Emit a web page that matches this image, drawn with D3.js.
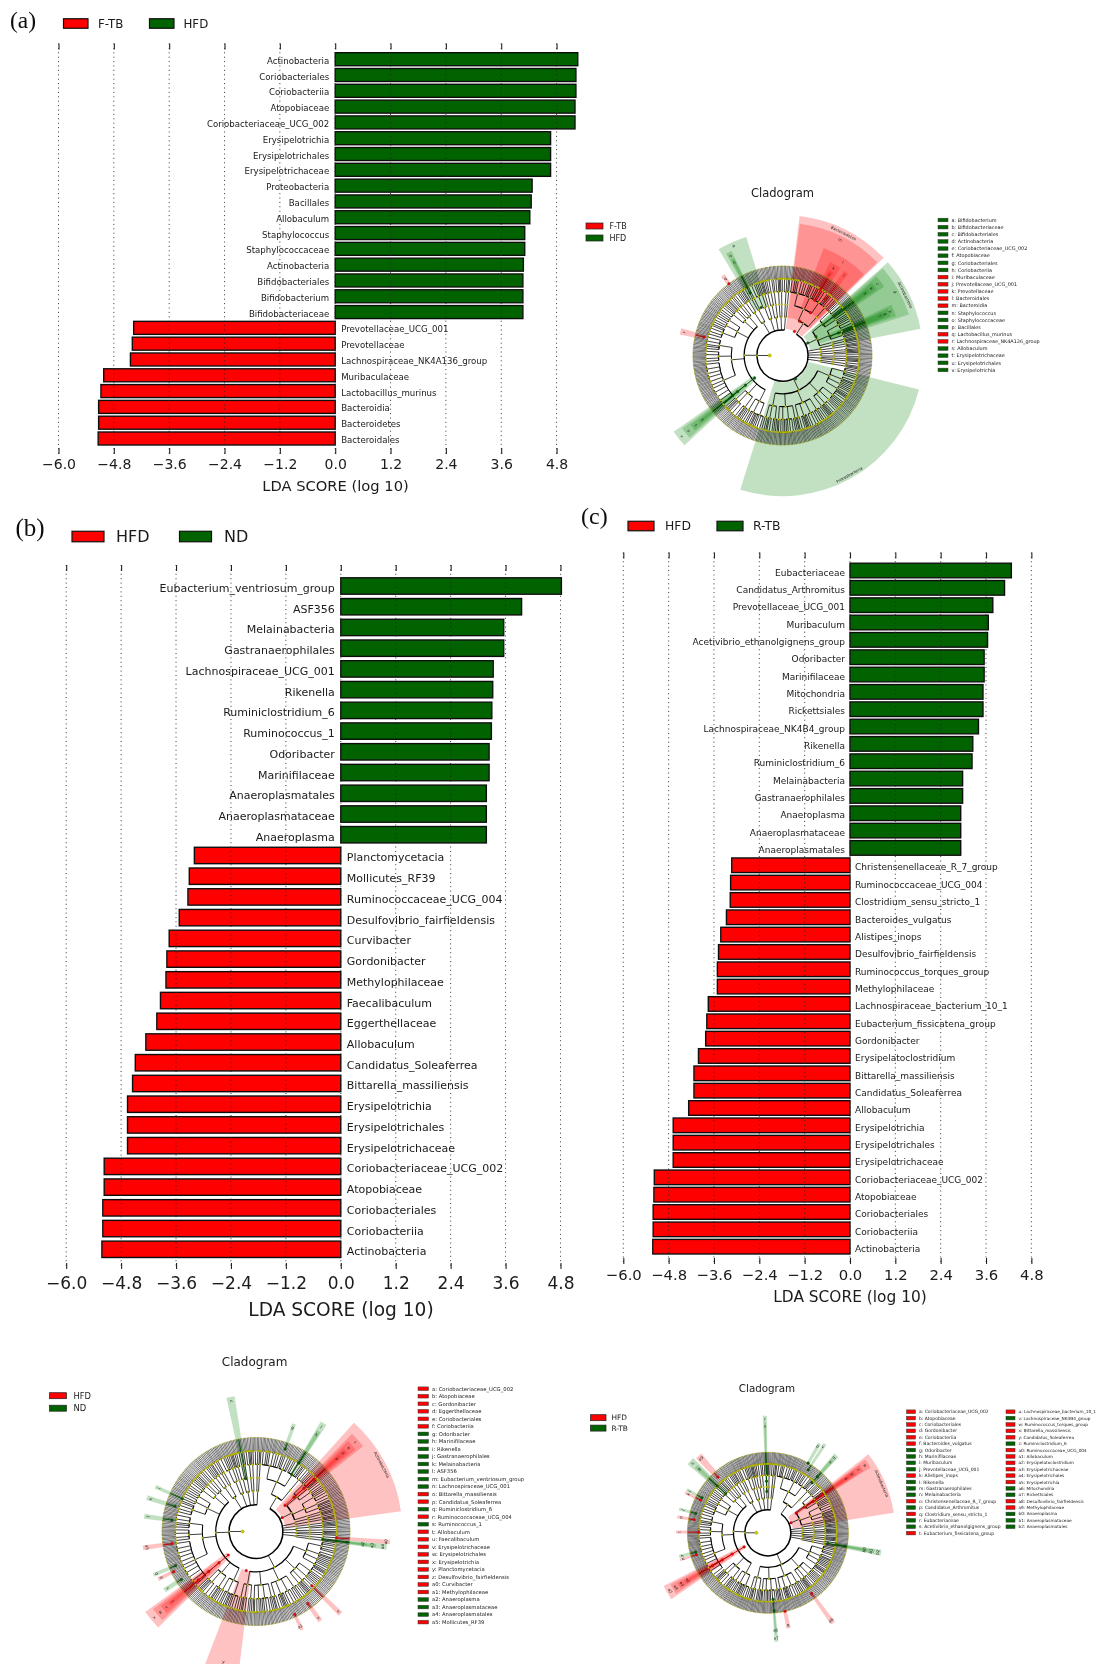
<!DOCTYPE html>
<html>
<head>
<meta charset="utf-8">
<script src="https://cdn.jsdelivr.net/npm/d3@7/dist/d3.min.js"></script>
<style>
  html, body { margin: 0; padding: 0; background: #fff; }
  svg { display: block; }
  text { font-family: "DejaVu Sans", sans-serif; fill: #1a1a1a; }
  .letter { font-family: "Liberation Serif", serif; fill: #111; }
</style>
</head>
<body>
<svg id="fig" width="1099" height="1664"></svg>
<script>
/* LDA bar values, top to bottom */
const aNames = ["Actinobacteria","Coriobacteriales","Coriobacteriia","Atopobiaceae","Coriobacteriaceae_UCG_002","Erysipelotrichia","Erysipelotrichales","Erysipelotrichaceae","Proteobacteria","Bacillales","Allobaculum","Staphylococcus","Staphylococcaceae","Actinobacteria","Bifidobacteriales","Bifidobacterium","Bifidobacteriaceae","Prevotellaceae_UCG_001","Prevotellaceae","Lachnospiraceae_NK4A136_group","Muribaculaceae","Lactobacillus_murinus","Bacteroidia","Bacteroidetes","Bacteroidales"];
const aScores = [5.26,5.22,5.22,5.20,5.20,4.67,4.67,4.67,4.27,4.25,4.22,4.11,4.11,4.08,4.07,4.07,4.07,-4.37,-4.40,-4.44,-5.02,-5.08,-5.13,-5.13,-5.14];

const bNames = ["Eubacterium_ventriosum_group","ASF356","Melainabacteria","Gastranaerophilales","Lachnospiraceae_UCG_001","Rikenella","Ruminiclostridium_6","Ruminococcus_1","Odoribacter","Marinifilaceae","Anaeroplasmatales","Anaeroplasmataceae","Anaeroplasma","Planctomycetacia","Mollicutes_RF39","Ruminococcaceae_UCG_004","Desulfovibrio_fairfieldensis","Curvibacter","Gordonibacter","Methylophilaceae","Faecalibaculum","Eggerthellaceae","Allobaculum","Candidatus_Soleaferrea","Bittarella_massiliensis","Erysipelotrichia","Erysipelotrichales","Erysipelotrichaceae","Coriobacteriaceae_UCG_002","Atopobiaceae","Coriobacteriales","Coriobacteriia","Actinobacteria"];
const bScores = [4.82,3.95,3.56,3.56,3.33,3.32,3.30,3.29,3.24,3.24,3.18,3.18,3.18,-3.20,-3.31,-3.34,-3.53,-3.75,-3.80,-3.82,-3.94,-4.02,-4.26,-4.49,-4.55,-4.66,-4.66,-4.66,-5.17,-5.17,-5.20,-5.20,-5.22];

const cNames = ["Eubacteriaceae","Candidatus_Arthromitus","Prevotellaceae_UCG_001","Muribaculum","Acetivibrio_ethanolgignens_group","Odoribacter","Marinifilaceae","Mitochondria","Rickettsiales","Lachnospiraceae_NK4B4_group","Rikenella","Ruminiclostridium_6","Melainabacteria","Gastranaerophilales","Anaeroplasma","Anaeroplasmataceae","Anaeroplasmatales","Christensenellaceae_R_7_group","Ruminococcaceae_UCG_004","Clostridium_sensu_stricto_1","Bacteroides_vulgatus","Alistipes_inops","Desulfovibrio_fairfieldensis","Ruminococcus_torques_group","Methylophilaceae","Lachnospiraceae_bacterium_10_1","Eubacterium_fissicatena_group","Gordonibacter","Erysipelatoclostridium","Bittarella_massiliensis","Candidatus_Soleaferrea","Allobaculum","Erysipelotrichia","Erysipelotrichales","Erysipelotrichaceae","Coriobacteriaceae_UCG_002","Atopobiaceae","Coriobacteriales","Coriobacteriia","Actinobacteria"];
const cScores = [4.27,4.09,3.78,3.66,3.64,3.55,3.55,3.52,3.52,3.40,3.25,3.23,2.98,2.98,2.93,2.93,2.93,-3.13,-3.16,-3.17,-3.27,-3.42,-3.48,-3.51,-3.51,-3.75,-3.79,-3.82,-4.01,-4.13,-4.13,-4.27,-4.68,-4.68,-4.68,-5.18,-5.19,-5.21,-5.21,-5.22];

const scoreTicks = [-6.0,-4.8,-3.6,-2.4,-1.2,0,1.2,2.4,3.6,4.8];

/* Cladogram taxonomy: phylum > class > order > family (number = genera in it) */
const taxonTree = [
  [[[3,2,1,2,4,1,3,2],[1,2,3,1,2],[2,1,4,2,1,1]],[[2,3,1]]],
  [[[2,1,2,3],[1,1,2],[2,2]],[[1,2,1,3,2],[3,1],[1,2,1,1]],[[2,1]]],
  [[[1,1],[2,1]],[[1,1]]],
  [[[2,1,1]]],
  [[[1],[1,2]],[[2]]],
  [[[1,1,1]],[[1]]],
  [[[3,1]],[[1,1]]],
  [[[2,1,3,1,2],[3,1,1,2],[1,2,1],[2,2,1,1]],
   [[1,3,2,1,2,1],[2,1],[3,2,1,1],[1,1,2]],
   [[2,2,1,3],[1,4,2],[2,1,1,1,2],[3,1]],
   [[1,2,1],[3,2,2,1],[2,1,3],[1,1]],
   [[2,1,2],[3,1,1],[2,2]]],
  [[[2,3,1,2,1],[1,2,2,1],[3,1]],
   [[2,1,1,3],[4,2,1],[1,1,2]],
   [[4,5,3,6,2,4,3,5,2,6,3],[2,3,4,2],[3,1,2,4,3]],
   [[3,2,4,1,2],[2,2,3],[1,3,1]],
   [[3,2,2,1],[2,1]],
   [[1,2],[2,1],[3]]],
  [[[2,1,2],[1,1]],[[3,1],[2]]],
  [[[4,1,2],[1,2]],[[1,1]]],
  [[[1,2,1],[3]],[[2,1]]],
  [[[3,1,1]],[[1,2]]],
  [[[2,2,1]],[[1]]]
];

/* Highlighted clades: start deg, end deg, inner level, outer level, group, label, tag level if not at the edge */
const aClades = [
  [7,46,2.1,11,"r","Bacteroidetes"],[7.5,45.5,3,10.4,"r","m"],[21,45,4,9,"r","l"],[27,33.5,5,8.2,"r","k"],[28.5,31.5,6,7.6,"r","j"],[36,39,5.5,8.2,"r","i"],
  [48.5,79,2.2,11,"g","Actinobacteria"],[49,72,3,10.4,"g","d"],[50,56,4,9.6,"g","c"],[51,55,5,9,"g","b"],[52,54,6,8.4,"g","a"],[65,71,4,9.4,"g","h"],[66,70,4.7,9,"g","g"],[66.5,69.5,5.5,8.5,"g","f"],
  [104,197.5,2.1,11,"g","Proteobacteria"],
  [227.5,235,2.8,10.4,"g","v"],[228.5,234,3.7,9.7,"g","u"],[229.5,233,4.5,9,"g","t"],[230.5,232,5,8.3,"g","s"],
  [329,343,4.1,9.7,"g","p"],[331,334,5.5,9.1,"g","o"],[331.8,333.5,6,8.5,"g","n"],
  [281.5,285,6.3,8.2,"r","r"],[322,324.5,7,7.8,"r","q"]
];
const bClades = [
  [42,82,2.2,10.9,"r","Actinobacteria"],[44.5,51.5,2.9,10.2,"r","f"],[45.5,50.5,3.8,9.6,"r","e"],[46.5,49.5,4.8,9,"r","d"],[47.3,48.7,5.8,8.4,"r","a"],
  [225.5,234,2.7,10.2,"r","x"],[226.5,233,3.6,9.6,"r","w"],[227.5,232,4.6,9,"r","v"],[229,231,5.6,8.4,"r","t"],
  [187,201,3,10.9,"r","y",10],
  [347.5,351,4,10.2,"g","n"],[18.5,20.5,6.5,8.5,"g","g"],[30.5,33.5,5,9.5,"g","j"],[31,33,6,8.8,"g","k"],
  [95.5,98,5,9.8,"g","a4"],[96,97.6,6,9,"g","a3"],[96.3,97.3,6.8,8.3,"g","a2"],[93.5,95.5,6,10,"r","a0"],
  [293,295,6,8.2,"g","i"],[286,288.5,6.3,8.5,"g","h"],[276.5,279,6.3,8.4,"g","l"],[260.5,263,6.3,8.5,"r","a5"],[246,248,6.5,8.3,"g","q"],[243,245,6.8,8.1,"r","p"],[236,238.5,6.6,8.1,"g","s"],
  [154,156,6.8,8.1,"r","a1"],[143,145.5,6.6,8.2,"r","u"],[133,135.5,5.8,8.8,"r","o"]
];
const cClades = [
  [52,81,2.2,11.1,"r","Actinobacteria"],[53,57.5,3,10.6,"r","e"],[53.5,57,3.9,9.9,"r","c"],[54,56.5,4.8,9.2,"r","b"],[54.5,56,5.8,8.6,"r","a"],
  [235.5,243,2.4,10.2,"r","a5"],[236.5,242,3.6,9.6,"r","a4"],[237.5,241,4.6,9,"r","a3"],[238.5,240,5.6,8.4,"r","a1"],
  [98.5,101.5,5.3,10,"g","b2"],[99,101,6,9.4,"g","b1"],[99.5,100.5,6.8,8.8,"g","b0"],
  [357.5,359.5,3.6,10.2,"g","r"],[358,359,4.5,9.6,"g","s"],[174.5,176.5,5.8,9.5,"g","a7"],[175,176,6.8,8.8,"g","a6"],
  [143,145.5,6.5,9.7,"r","a8"],[166.5,169,7,8.5,"r","q"],[310.5,315,5,9.2,"g","h"],[311.5,314,6,8.5,"g","g"],[316,320,6.5,9,"r","a9"],
  [297,299,6.5,8,"g","l"],[295,296.8,6.5,8,"r","k"],[284,286,6.5,8,"g","j"],[279,281,6.5,8,"r","o"],[269.5,271.5,6,8,"r","t"],[254,256,6.5,8,"g","z"],[252,253.8,6.5,8,"r","u"],
  [29,31,7,9,"g","p"],[31.8,33.6,6.5,9.2,"g","v"],[40,43,5.8,9,"g","m"],[40.5,42.5,6.5,8.5,"g","n"]
];

/* Cladogram side keys; group letters line up with the names */
const aKeyNames = ["a: Bifidobacterium","b: Bifidobacteriaceae","c: Bifidobacteriales","d: Actinobacteria","e: Coriobacteriaceae_UCG_002","f: Atopobiaceae","g: Coriobacteriales","h: Coriobacteriia","i: Muribaculaceae","j: Prevotellaceae_UCG_001","k: Prevotellaceae","l: Bacteroidales","m: Bacteroidia","n: Staphylococcus","o: Staphylococcaceae","p: Bacillales","q: Lactobacillus_murinus","r: Lachnospiraceae_NK4A136_group","s: Allobaculum","t: Erysipelotrichaceae","u: Erysipelotrichales","v: Erysipelotrichia"];
const aKeyGroups = "ggggggggrrrrrgggrrgggg";
const bKeyNames = ["a: Coriobacteriaceae_UCG_002","b: Atopobiaceae","c: Gordonibacter","d: Eggerthellaceae","e: Coriobacteriales","f: Coriobacteriia","g: Odoribacter","h: Marinifilaceae","i: Rikenella","j: Gastranaerophilales","k: Melainabacteria","l: ASF356","m: Eubacterium_ventriosum_group","n: Lachnospiraceae_UCG_001","o: Bittarella_massiliensis","p: Candidatus_Soleaferrea","q: Ruminiclostridium_6","r: Ruminococcaceae_UCG_004","s: Ruminococcus_1","t: Allobaculum","u: Faecalibaculum","v: Erysipelotrichaceae","w: Erysipelotrichales","x: Erysipelotrichia","y: Planctomycetacia","z: Desulfovibrio_fairfieldensis","a0: Curvibacter","a1: Methylophilaceae","a2: Anaeroplasma","a3: Anaeroplasmataceae","a4: Anaeroplasmatales","a5: Mollicutes_RF39"];
const bKeyGroups = "rrrrrrggggggggrrgrgrrrrrrrrrgggr";
const cKeyNames1 = ["a: Coriobacteriaceae_UCG_002","b: Atopobiaceae","c: Coriobacteriales","d: Gordonibacter","e: Coriobacteriia","f: Bacteroides_vulgatus","g: Odoribacter","h: Marinifilaceae","i: Muribaculum","j: Prevotellaceae_UCG_001","k: Alistipes_inops","l: Rikenella","m: Gastranaerophilales","n: Melainabacteria","o: Christensenellaceae_R_7_group","p: Candidatus_Arthromitus","q: Clostridium_sensu_stricto_1","r: Eubacteriaceae","s: Acetivibrio_ethanolgignens_group","t: Eubacterium_fissicatena_group"];
const cKeyGroups1 = "rrrrrrggggrgggrgrggr";
const cKeyNames2 = ["u: Lachnospiraceae_bacterium_10_1","v: Lachnospiraceae_NK4B4_group","w: Ruminococcus_torques_group","x: Bittarella_massiliensis","y: Candidatus_Soleaferrea","z: Ruminiclostridium_6","a0: Ruminococcaceae_UCG_004","a1: Allobaculum","a2: Erysipelatoclostridium","a3: Erysipelotrichaceae","a4: Erysipelotrichales","a5: Erysipelotrichia","a6: Mitochondria","a7: Rickettsiales","a8: Desulfovibrio_fairfieldensis","a9: Methylophilaceae","b0: Anaeroplasma","b1: Anaeroplasmataceae","b2: Anaeroplasmatales"];
const cKeyGroups2 = "rgrrrgrrrrrrggrrggg";

const RED = "#ff0000", GREEN = "#006400";
const HILITE = { r: "#ff0000", g: "#008000" };

const svg = d3.select("#fig");
const defs = svg.append("defs");
defs.append("filter").attr("id", "soft").attr("x", "-2%").attr("y", "-2%").attr("width", "104%").attr("height", "104%")
  .append("feGaussianBlur").attr("stdDeviation", 0.3);
defs.append("filter").attr("id", "softer").attr("x", "-2%").attr("y", "-2%").attr("width", "104%").attr("height", "104%")
  .append("feGaussianBlur").attr("stdDeviation", 0.4);

const barLayer = svg.append("g").attr("filter", "url(#soft)");
const cladoLayer = svg.append("g").attr("filter", "url(#softer)");

/* ══════════════════════════════════
   LDA bar panel
   ══════════════════════════════════ */
function ldaPanel(names, scores, L) {
  const g = barLayer.append("g");
  const x = d3.scaleLinear().domain([-6, 0]).range([L.xMin, L.xZero]);
  const step = (L.yLast - L.yFirst) / (names.length - 1);
  const y = d3.scaleBand().domain(d3.range(names.length))
    .range([L.yFirst - step / 2, L.yLast + step / 2])
    .paddingInner(1 - L.barH / step).paddingOuter((1 - L.barH / step) / 2);

  g.selectAll(".bar").data(scores).enter().append("rect").attr("class", "bar")
    .attr("x", d => x(Math.min(d, 0)))
    .attr("width", d => Math.abs(x(d) - x(0)))
    .attr("y", (d, i) => y(i)).attr("height", y.bandwidth())
    .attr("fill", d => d < 0 ? RED : GREEN)
    .attr("stroke", "#111").attr("stroke-width", 1.4);

  /* dotted verticals run over the bars */
  g.append("g").selectAll("line").data(scoreTicks).enter().append("line")
    .attr("x1", d => x(d)).attr("x2", d => x(d))
    .attr("y1", L.top).attr("y2", L.bottom)
    .attr("stroke", "#222").attr("stroke-width", 0.9).attr("stroke-dasharray", "1,3.4");

  const topAxis = g.append("g").attr("transform", `translate(0,${L.top + 6})`)
    .call(d3.axisTop(x).tickValues(scoreTicks).tickSize(6).tickFormat(""));
  topAxis.select(".domain").remove();
  topAxis.selectAll("line").attr("stroke", "#222").attr("stroke-width", 1.1);

  const botAxis = g.append("g").attr("transform", `translate(0,${L.bottom - 6})`)
    .call(d3.axisBottom(x).tickValues(scoreTicks).tickSize(6).tickPadding(L.tickPad).tickFormat(d3.format(".1f")));
  botAxis.select(".domain").remove();
  botAxis.selectAll("line").attr("stroke", "#222").attr("stroke-width", 1.1);
  botAxis.selectAll("text").style("font-size", L.tickFont + "px").style("font-family", '"DejaVu Sans"').attr("fill", "#1a1a1a");

  g.append("text").attr("x", L.titleX).attr("y", L.titleY).attr("text-anchor", "middle")
    .style("font-size", L.titleFont + "px").text("LDA SCORE (log 10)");

  g.selectAll(".name").data(names).enter().append("text").attr("class", "name")
    .attr("x", (d, i) => x(0) + (scores[i] < 0 ? L.nameGap : -L.nameGap))
    .attr("y", (d, i) => y(i) + y.bandwidth() / 2 + L.nameFont * 0.36 + L.nameDrop)
    .attr("text-anchor", (d, i) => scores[i] < 0 ? "start" : "end")
    .style("font-size", L.nameFont + "px").text(d => d);

  /* legend above the plot */
  L.legend.forEach(k => {
    g.append("rect").attr("x", k.x).attr("y", L.legendY - L.legendH / 2)
      .attr("width", k.w).attr("height", L.legendH)
      .attr("fill", k.group === "r" ? RED : GREEN).attr("stroke", "#111").attr("stroke-width", 1.2);
    g.append("text").attr("x", k.tx).attr("y", L.legendY + L.legendFont * 0.36)
      .style("font-size", L.legendFont + "px").text(k.name);
  });

  g.append("text").attr("class", "letter").attr("x", L.letterX).attr("y", L.letterY)
    .style("font-size", L.letterFont + "px").text(L.letter);
}

/* ══════════════════════════════════
   Cladogram panel
   ══════════════════════════════════ */
function cladogram(clades, L) {
  const g = cladoLayer.append("g");
  const plot = g.append("g").attr("transform", `translate(${L.cx},${L.cy})`);
  const level = d3.scaleLinear().domain([0, 7]).range([0, L.R]);
  const deg = d => d * Math.PI / 180;

  /* shaded clades, widest first so the nested ones build up the colour */
  const sector = d3.arc();
  plot.selectAll(".clade").data(clades).enter().append("path").attr("class", "clade")
    .attr("d", d => sector({ startAngle: deg(d[0]), endAngle: deg(d[1]), innerRadius: level(d[2]), outerRadius: level(d[3]) }))
    .attr("fill", d => HILITE[d[4]]).attr("fill-opacity", 0.24);

  /* tree */
  const root = d3.hierarchy([taxonTree], d => Array.isArray(d) ? d : (d > 0 ? new Array(d).fill(0) : null));
  d3.cluster().size([2 * Math.PI, 1]).separation((a, b) => a.parent === b.parent ? 1 : 1.15)(root);
  const rot = deg(L.rotate);
  root.each(n => { n.angle = n.x + rot; });
  /* root and kingdom sit on the left of the ring */
  root.angle = deg(270);
  root.children[0].angle = deg(270);

  const rad = d => level(d.depth + 1);
  const widths = [1.2, 1.5, 1.3, 1.05, 0.8, 0.5];
  const links = plot.append("g").attr("fill", "none").attr("stroke", "#000");

  links.selectAll("line").data(root.links()).enter().append("line")
    .attr("x1", d => d3.pointRadial(d.target.angle, rad(d.source))[0])
    .attr("y1", d => d3.pointRadial(d.target.angle, rad(d.source))[1])
    .attr("x2", d => d3.pointRadial(d.target.angle, rad(d.target))[0])
    .attr("y2", d => d3.pointRadial(d.target.angle, rad(d.target))[1])
    .attr("stroke-width", d => d.target.height === 0 ? 0.55 : 0.75);

  const arcNodes = root.descendants().filter(n => n.children && n.children.length > 1);
  links.selectAll("path").data(arcNodes).enter().append("path")
    .attr("d", n => sector({
      startAngle: n.children[0].angle, endAngle: n.children[n.children.length - 1].angle,
      innerRadius: rad(n), outerRadius: rad(n)
    }))
    .attr("stroke-width", n => widths[n.depth]);

  /* coloured branches inside the narrow clades */
  plot.selectAll(".cbranch").data(clades.filter(d => d[1] - d[0] < 10)).enter().append("line").attr("class", "cbranch")
    .attr("x1", d => d3.pointRadial(deg((d[0] + d[1]) / 2), level(d[2]))[0])
    .attr("y1", d => d3.pointRadial(deg((d[0] + d[1]) / 2), level(d[2]))[1])
    .attr("x2", d => d3.pointRadial(deg((d[0] + d[1]) / 2), level(Math.min(d[3], 7)))[0])
    .attr("y2", d => d3.pointRadial(deg((d[0] + d[1]) / 2), level(Math.min(d[3], 7)))[1])
    .attr("stroke", d => d[4] === "r" ? "#c00000" : "#005000").attr("stroke-width", 0.9);

  plot.selectAll(".node").data(root.descendants()).enter().append("circle").attr("class", "node")
    .attr("transform", n => `translate(${d3.pointRadial(n.angle, rad(n))})`)
    .attr("r", n => n.depth === 0 ? 1.7 : n.height === 0 ? 0.4 : 0.95)
    .attr("fill", "#cfcf00").attr("stroke", "#5a5a00").attr("stroke-width", 0.2);

  plot.selectAll(".cnode").data(clades).enter().append("circle").attr("class", "cnode")
    .attr("transform", d => `translate(${d3.pointRadial(deg((d[0] + d[1]) / 2), level(d[2]))})`)
    .attr("r", 1.3).attr("fill", d => d[4] === "r" ? RED : GREEN).attr("stroke", "#222").attr("stroke-width", 0.25);

  /* clade tags, tangent to the wedge edge */
  plot.selectAll(".ctag").data(clades).enter().append("text").attr("class", "ctag")
    .attr("transform", d => {
      const a = (d[0] + d[1]) / 2;
      const p = d3.pointRadial(deg(a), level(d[6] !== undefined ? d[6] : d[3] - 0.3));
      const flip = a > 90 && a < 270 ? 180 : 0;
      return `translate(${p}) rotate(${a + flip})`;
    })
    .attr("text-anchor", "middle").attr("dy", "0.35em")
    .style("font-size", "4px").attr("fill", "#222").text(d => d[5]);

  g.append("text").attr("x", L.titleX).attr("y", L.titleY).attr("text-anchor", "middle")
    .style("font-size", L.titleFont + "px").text("Cladogram");

  /* group legend */
  L.groups.forEach((name, i) => {
    const yy = L.groupY + i * L.groupStep;
    g.append("rect").attr("x", L.groupX).attr("y", yy - 3).attr("width", L.groupW).attr("height", 6)
      .attr("fill", i === 0 ? RED : GREEN).attr("stroke", "#222").attr("stroke-width", 0.7);
    g.append("text").attr("x", L.groupTx).attr("y", yy + L.groupFont * 0.36)
      .style("font-size", L.groupFont + "px").text(name);
  });

  /* lettered key */
  L.keys.forEach(k => {
    const rows = g.append("g").selectAll("g").data(k.names).enter().append("g")
      .attr("transform", (d, i) => `translate(${k.x},${L.keyY + i * L.keyStep})`);
    rows.append("rect").attr("y", -1.8).attr("width", L.keyW).attr("height", 3.6)
      .attr("fill", (d, i) => k.groups[i] === "r" ? RED : GREEN).attr("stroke", "#333").attr("stroke-width", 0.5);
    rows.append("text").attr("x", L.keyW + 3.5).attr("y", k.font * 0.36)
      .style("font-size", k.font + "px").text(d => d);
  });
}

/* ══════════════════════════════════
   Panels
   ══════════════════════════════════ */
ldaPanel(aNames, aScores, {
  xMin: 58.5, xZero: 335.2, yFirst: 59.2, yLast: 438.5, barH: 13, top: 43.5, bottom: 454,
  tickPad: 5.5, tickFont: 14, titleX: 335.5, titleY: 490.5, titleFont: 14.7, nameFont: 8.6, nameGap: 6, nameDrop: 1.5,
  legendY: 23.5, legendH: 9.5, legendFont: 11.8,
  legend: [{ group: "r", name: "F-TB", x: 63.5, w: 24.5, tx: 98 }, { group: "g", name: "HFD", x: 149.5, w: 24.5, tx: 183.5 }],
  letter: "(a)", letterX: 10, letterY: 28, letterFont: 23.5
});
ldaPanel(bNames, bScores, {
  xMin: 66.2, xZero: 340.8, yFirst: 586, yLast: 1249.3, barH: 16.4, top: 565, bottom: 1269,
  tickPad: 7.5, tickFont: 17, titleX: 341, titleY: 1316, titleFont: 18.6, nameFont: 11, nameGap: 6, nameDrop: 2,
  legendY: 536.5, legendH: 10.5, legendFont: 16,
  legend: [{ group: "r", name: "HFD", x: 72, w: 32, tx: 116 }, { group: "g", name: "ND", x: 179.5, w: 32, tx: 224 }],
  letter: "(b)", letterX: 15.5, letterY: 536, letterFont: 25
});
ldaPanel(cNames, cScores, {
  xMin: 623.3, xZero: 850, yFirst: 570.5, yLast: 1246.7, barH: 14.6, top: 552.5, bottom: 1264,
  tickPad: 5.5, tickFont: 14.8, titleX: 850, titleY: 1302, titleFont: 15.4, nameFont: 9, nameGap: 5, nameDrop: 2,
  legendY: 526, legendH: 9.5, legendFont: 12.4,
  legend: [{ group: "r", name: "HFD", x: 628, w: 26, tx: 665 }, { group: "g", name: "R-TB", x: 717, w: 26, tx: 753 }],
  letter: "(c)", letterX: 581, letterY: 524, letterFont: 24
});

cladogram(aClades, {
  cx: 782.5, cy: 355.5, R: 89.5, rotate: 6,
  titleX: 782.5, titleY: 197, titleFont: 11.5,
  groups: ["F-TB", "HFD"], groupX: 586, groupW: 17, groupTx: 609.5, groupY: 226, groupStep: 12, groupFont: 8,
  keyY: 220, keyStep: 7.14, keyW: 10,
  keys: [{ x: 938, names: aKeyNames, groups: aKeyGroups, font: 4.9 }]
});
cladogram(bClades, {
  cx: 256, cy: 1531.5, R: 94, rotate: 4,
  titleX: 254.6, titleY: 1366, titleFont: 12,
  groups: ["HFD", "ND"], groupX: 49.5, groupW: 17, groupTx: 73.5, groupY: 1395.7, groupStep: 12.5, groupFont: 8.4,
  keyY: 1388.7, keyStep: 7.53, keyW: 10.5,
  keys: [{ x: 418, names: bKeyNames, groups: bKeyGroups, font: 5.25 }]
});
cladogram(cClades, {
  cx: 767.9, cy: 1532.8, R: 80.4, rotate: 8,
  titleX: 767, titleY: 1392, titleFont: 10.3,
  groups: ["HFD", "R-TB"], groupX: 590.5, groupW: 15.5, groupTx: 611.5, groupY: 1417.7, groupStep: 10.4, groupFont: 7.4,
  keyY: 1411.7, keyStep: 6.39, keyW: 9,
  keys: [{ x: 906.5, names: cKeyNames1, groups: cKeyGroups1, font: 4.5 }, { x: 1006, names: cKeyNames2, groups: cKeyGroups2, font: 4.25 }]
});
</script>
</body>
</html>
